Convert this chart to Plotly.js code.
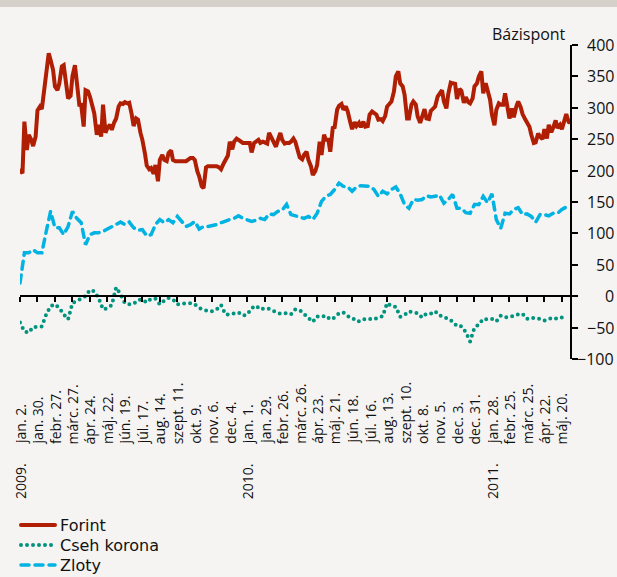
<!DOCTYPE html>
<html>
<head>
<meta charset="utf-8">
<script src="https://cdn.plot.ly/plotly-3.0.1.min.js"></script>
<style>
  html, body { margin: 0; padding: 0; background: #f6f4f2; }
  #band { position: absolute; left: 0; top: 0; width: 617px; height: 7px; background: #d6d0cb; z-index: 10; }
  #chart { width: 617px; height: 577px; }
  path.js-line { stroke-linecap: round; }
</style>
</head>
<body>
<div id="band"></div>
<div id="chart"></div>
<script>
// weekly (Friday) observation dates
const dates = [
  '2009-01-02','2009-01-09','2009-01-16','2009-01-23','2009-01-30','2009-02-06','2009-02-13','2009-02-20','2009-02-27',
  '2009-03-06','2009-03-13','2009-03-20','2009-03-27','2009-04-03','2009-04-10','2009-04-17','2009-04-24',
  '2009-05-01','2009-05-08','2009-05-15','2009-05-22','2009-05-29','2009-06-05','2009-06-12','2009-06-19','2009-06-26',
  '2009-07-03','2009-07-10','2009-07-17','2009-07-24','2009-07-31','2009-08-07','2009-08-14','2009-08-21','2009-08-28',
  '2009-09-04','2009-09-11','2009-09-18','2009-09-25','2009-10-02','2009-10-09','2009-10-16','2009-10-23','2009-10-30',
  '2009-11-06','2009-11-13','2009-11-20','2009-11-27','2009-12-04','2009-12-11','2009-12-18','2009-12-25',
  '2010-01-01','2010-01-08','2010-01-15','2010-01-22','2010-01-29','2010-02-05','2010-02-12','2010-02-19','2010-02-26',
  '2010-03-05','2010-03-12','2010-03-19','2010-03-26','2010-04-02','2010-04-09','2010-04-16','2010-04-23','2010-04-30',
  '2010-05-07','2010-05-14','2010-05-21','2010-05-28','2010-06-04','2010-06-11','2010-06-18','2010-06-25',
  '2010-07-02','2010-07-09','2010-07-16','2010-07-23','2010-07-30','2010-08-06','2010-08-13','2010-08-20','2010-08-27',
  '2010-09-03','2010-09-10','2010-09-17','2010-09-24','2010-10-01','2010-10-08','2010-10-15','2010-10-22','2010-10-29',
  '2010-11-05','2010-11-12','2010-11-19','2010-11-26','2010-12-03','2010-12-10','2010-12-17','2010-12-24','2010-12-31',
  '2011-01-07','2011-01-14','2011-01-21','2011-01-28','2011-02-04','2011-02-11','2011-02-18','2011-02-25',
  '2011-03-04','2011-03-11','2011-03-18','2011-03-25','2011-04-01','2011-04-08','2011-04-15','2011-04-22','2011-04-29',
  '2011-05-06','2011-05-13','2011-05-20','2011-05-27'
];
// extra mid-week (Tuesday) observations used for the forint line
const midweekDates = [
  '2009-01-06','2009-01-13','2009-01-20','2009-01-27','2009-02-03','2009-02-10','2009-02-17','2009-02-24',
  '2009-03-03','2009-03-10','2009-03-17','2009-03-24','2009-03-31','2009-04-07','2009-04-14','2009-04-21','2009-04-28',
  '2009-05-05','2009-05-12','2009-05-19','2009-05-26','2009-06-02','2009-06-09','2009-06-16','2009-06-23','2009-06-30',
  '2009-07-07','2009-07-14','2009-07-21','2009-07-28','2009-08-04','2009-08-11','2009-08-18','2009-08-25',
  '2009-09-01','2009-09-08','2009-09-15','2009-09-22','2009-09-29','2009-10-06','2009-10-13','2009-10-20','2009-10-27',
  '2009-11-03','2009-11-10','2009-11-17','2009-11-24','2009-12-01','2009-12-08','2009-12-15','2009-12-22','2009-12-29',
  '2010-01-05','2010-01-12','2010-01-19','2010-01-26','2010-02-02','2010-02-09','2010-02-16','2010-02-23',
  '2010-03-02','2010-03-09','2010-03-16','2010-03-23','2010-03-30','2010-04-06','2010-04-13','2010-04-20','2010-04-27',
  '2010-05-04','2010-05-11','2010-05-18','2010-05-25','2010-06-01','2010-06-08','2010-06-15','2010-06-22','2010-06-29',
  '2010-07-06','2010-07-13','2010-07-20','2010-07-27','2010-08-03','2010-08-10','2010-08-17','2010-08-24','2010-08-31',
  '2010-09-07','2010-09-14','2010-09-21','2010-09-28','2010-10-05','2010-10-12','2010-10-19','2010-10-26',
  '2010-11-02','2010-11-09','2010-11-16','2010-11-23','2010-11-30','2010-12-07','2010-12-14','2010-12-21','2010-12-28',
  '2011-01-04','2011-01-11','2011-01-18','2011-01-25','2011-02-01','2011-02-08','2011-02-15','2011-02-22',
  '2011-03-01','2011-03-08','2011-03-15','2011-03-22','2011-03-29','2011-04-05','2011-04-12','2011-04-19','2011-04-26',
  '2011-05-03','2011-05-10','2011-05-17','2011-05-24','2011-05-31'
];
const forintDates = dates.concat(midweekDates).sort();

// forint, twice a week (chronological)
const forint = [
  200,196,278,233,257,249,239,254,296,302,
  298,334,355,387,376,360,334,328,339,366,
  368,331,315,319,350,368,339,305,305,270,
  328,326,318,298,291,257,273,254,305,260,
  268,273,265,277,283,302,307,306,309,307,
  308,289,271,283,281,260,249,228,208,202,
  204,195,209,183,217,225,217,215,228,232,
  217,215,215,215,215,216,215,218,220,220,
  217,199,191,175,172,205,207,207,207,207,
  207,205,202,211,218,224,246,234,246,251,
  249,246,244,244,244,244,229,244,246,249,
  244,246,245,243,260,252,244,238,248,260,
  249,243,244,244,246,251,246,234,221,218,
  225,230,217,207,193,199,209,246,225,257,
  249,249,230,268,269,297,303,306,297,302,
  294,277,266,277,271,276,269,278,270,271,
  289,294,291,289,281,282,279,287,302,308,
  310,326,350,358,339,334,321,283,283,305,
  310,305,286,276,287,298,283,282,295,299,
  302,318,322,328,310,299,322,340,339,338,
  314,330,327,308,317,309,307,315,334,339,
  350,358,323,339,328,313,289,272,297,307,
  305,305,323,299,283,299,285,302,310,301,
  290,282,278,270,257,244,245,259,254,250,
  266,251,273,261,268,280,268,273,266,278,
  290,277
];

const czech = [
  -42,-56,-58,-49,-49,-48,-29,-16,-13,-19,-29,-37,-11,-8,-4,0,10,8,-3,-21,
  -19,-14,14,3,-11,-13,-12,-6,-5,-10,-4,-4,-13,-7,-3,-5,-13,-12,-11,-11,
  -13,-19,-21,-24,-24,-21,-14,-29,-29,-27,-26,-31,-29,-19,-15,-21,-19,-20,-24,-27,
  -28,-27,-29,-21,-22,-29,-34,-41,-32,-33,-31,-37,-34,-27,-26,-32,-34,-40,-40,-36,
  -36,-37,-34,-32,-11,-16,-17,-33,-30,-24,-26,-27,-34,-28,-28,-24,-31,-32,-37,-40,
  -48,-48,-57,-72,-50,-45,-36,-37,-36,-40,-31,-34,-32,-32,-29,-28,-36,-34,-36,-36,
  -39,-36,-34,-36,-34,-39
];

const zloty = [
  21,69,69,74,69,69,103,135,109,109,98,111,135,124,117,82,98,101,101,103,
  107,111,115,118,114,118,109,105,106,96,98,114,122,117,122,117,127,119,111,114,
  119,107,111,111,112,114,117,120,122,124,128,124,122,119,121,124,122,131,130,135,
  137,146,130,128,127,124,127,122,132,151,159,162,170,180,175,174,167,174,176,175,
  175,170,159,167,163,170,174,163,146,140,154,153,154,160,158,159,161,148,154,162,
  140,140,133,132,146,146,159,149,163,122,108,132,131,138,141,130,131,127,118,130,
  130,128,132,132,138,142
];

const tickDates = [
  '2009-01-02','2009-01-30','2009-02-27','2009-03-27','2009-04-24','2009-05-22','2009-06-19','2009-07-17',
  '2009-08-14','2009-09-11','2009-10-09','2009-11-06','2009-12-04','2010-01-01','2010-01-29','2010-02-26',
  '2010-03-26','2010-04-23','2010-05-21','2010-06-18','2010-07-16','2010-08-13','2010-09-10','2010-10-08',
  '2010-11-05','2010-12-03','2010-12-31','2011-01-28','2011-02-25','2011-03-25','2011-04-22','2011-05-20'
];
const tickLabels = [
  'jan. 2.','jan. 30.','febr. 27.','márc. 27.','ápr. 24.','máj. 22.','jún. 19.','júl. 17.',
  'aug. 14.','szept. 11.','okt. 9.','nov. 6.','dec. 4.','jan. 1.','jan. 29.','febr. 26.',
  'márc. 26.','ápr. 23.','máj. 21.','jún. 18.','júl. 16.','aug. 13.','szept. 10.','okt. 8.',
  'nov. 5.','dec. 3.','dec. 31.','jan. 28.','febr. 25.','márc. 25.','ápr. 22.','máj. 20.'
];
const yearDates = ['2009-01-02','2010-01-01','2011-01-28'];
const yearLabels = ['2009.','2010.','2011.'];
const yTicks = [-100,-50,0,50,100,150,200,250,300,350,400];
const yTickLabels = ['−100','−50','0','50','100','150','200','250','300','350','400'];

const FONT = 'Open Sans, sans-serif';
const LEGEND_FONT = 'DejaVu Sans, sans-serif';
const plotW = 550, plotH = 314;
const mL = 20, mT = 45;
function py(px) { return (mT + plotH - px) / plotH; }
function pxx(px) { return (px - mL) / plotW; }

const annotations = [];
tickDates.forEach((d, i) => {
  annotations.push({
    x: d, xref: 'x', y: py(445), yref: 'paper',
    text: tickLabels[i], textangle: -90, showarrow: false,
    xanchor: 'center', yanchor: 'bottom', borderpad: 0,
    font: {family: FONT, size: 14, color: '#111'}
  });
});
yearDates.forEach((d, i) => {
  annotations.push({
    x: d, xref: 'x', y: py(500), yref: 'paper',
    text: yearLabels[i], textangle: -90, showarrow: false,
    xanchor: 'center', yanchor: 'bottom', borderpad: 0,
    font: {family: FONT, size: 14, color: '#111'}
  });
});
yTicks.forEach((v, i) => {
  annotations.push({
    x: pxx(615), xref: 'paper', y: v, yref: 'y',
    text: yTickLabels[i], showarrow: false,
    xanchor: 'right', yanchor: 'middle', borderpad: 0,
    font: {family: FONT, size: 16, color: '#111'}
  });
});
annotations.push({
  x: pxx(567), xref: 'paper', y: py(34), yref: 'paper',
  text: 'Bázispont', showarrow: false, xanchor: 'right', yanchor: 'middle', borderpad: 0,
  font: {family: FONT, size: 16, color: '#111'}
});

const traces = [
  {x: forintDates, y: forint, name: 'Forint', type: 'scatter', mode: 'lines', legend: 'legend',
   line: {color: '#b01e04', width: 4}},
  {x: dates, y: czech, name: 'Cseh korona', type: 'scatter', mode: 'lines', legend: 'legend2',
   line: {color: '#00937e', width: 4, dash: '0px,6px'}},
  {x: dates, y: zloty, name: 'Zloty', type: 'scatter', mode: 'lines', legend: 'legend3',
   line: {color: '#00b3e3', width: 3.5, dash: '8px,6px'}}
];

function legendAt(topPx) {
  return {x: pxx(16), xanchor: 'left', y: py(topPx), yanchor: 'top',
          font: {family: LEGEND_FONT, size: 16, color: '#111'}, bgcolor: 'rgba(0,0,0,0)',
          itemwidth: 34, tracegroupgap: 0};
}

const layout = {
  width: 617, height: 577,
  margin: {l: mL, r: 617 - mL - plotW, t: mT, b: 577 - mT - plotH, pad: 0, autoexpand: false},
  paper_bgcolor: '#f6f4f2', plot_bgcolor: '#f6f4f2',
  font: {family: FONT, size: 15, color: '#111'},
  showlegend: true,
  legend: legendAt(508),
  legend2: legendAt(528),
  legend3: legendAt(548),
  xaxis: {type: 'date', range: ['2009-01-02', '2011-06-02'], anchor: 'free', position: 0.2,
          showline: true, linecolor: '#000', linewidth: 2, ticks: 'outside', ticklen: 5, tickwidth: 2,
          tickcolor: '#000', tickmode: 'array', tickvals: tickDates, showticklabels: false,
          showgrid: false, zeroline: false, fixedrange: true},
  yaxis: {range: [-100, 400], side: 'right', showline: true, linecolor: '#000', linewidth: 2,
          ticks: 'outside', ticklen: 6, tickwidth: 2, tickcolor: '#000', tickmode: 'array',
          tickvals: yTicks, showticklabels: false, showgrid: false, zeroline: false, fixedrange: true},
  annotations: annotations,
  hovermode: false
};

Plotly.newPlot('chart', traces, layout, {staticPlot: true, displayModeBar: false});
</script>
</body>
</html>
